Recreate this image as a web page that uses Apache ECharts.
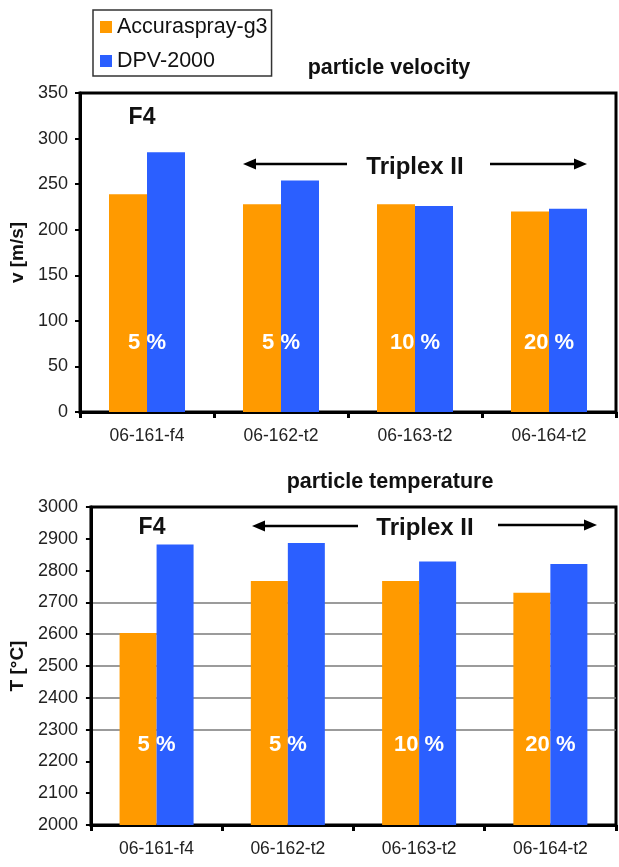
<!DOCTYPE html>
<html>
<head>
<meta charset="utf-8">
<script src="https://cdn.jsdelivr.net/npm/echarts@6/dist/echarts.min.js"></script>
<style>
html,body{margin:0;padding:0;background:#fff;}
#c{width:619px;height:867px;}
</style>
</head>
<body>
<div id="c"></div>
<script>
// ---- data ----
const categories = ['06-161-f4', '06-162-t2', '06-163-t2', '06-164-t2'];
const seriesNames = ['Accuraspray-g3', 'DPV-2000'];
const velAccura = [239, 228, 228, 220];
const velDPV = [285, 254, 226, 223];
const tempAccura = [2604, 2767, 2767, 2730];
const tempDPV = [2882, 2887, 2829, 2821];
const percentLabels = ['5 %', '5 %', '10 %', '20 %'];
const velTicks = [0, 50, 100, 150, 200, 250, 300, 350];
const tempTicks = [2000, 2100, 2200, 2300, 2400, 2500, 2600, 2700, 2800, 2900, 3000];
const tempGridLines = [2300, 2400, 2500, 2600, 2700];

const FONT = '"Liberation Sans", Arial, Helvetica, sans-serif';
const ORANGE = '#FF9A00';
const BLUE = '#2B5FFF';

const chart = echarts.init(document.getElementById('c'), null, {renderer: 'canvas'});

function yAxisCfg(gridIndex, ticks, name, nameGap, margin, gridLines) {
  const cfg = {
    gridIndex: gridIndex,
    type: 'value',
    min: ticks[0],
    max: ticks[ticks.length - 1],
    interval: ticks[1] - ticks[0],
    name: name,
    nameLocation: 'middle',
    nameRotate: 90,
    nameGap: nameGap,
    nameTextStyle: {fontFamily: FONT, fontSize: 19, fontWeight: 'bold', color: '#111'},
    axisLine: {show: true, lineStyle: {color: '#000', width: 3}},
    axisTick: {show: true, length: 5, lineStyle: {color: '#000', width: 2}},
    axisLabel: {fontFamily: FONT, fontSize: 18, color: '#222', margin: margin, formatter: v => String(v)},
    splitLine: {show: false}
  };
  if (gridLines) {
    cfg.splitLine = {
      show: true,
      showMinLine: true,
      showMaxLine: true,
      lineStyle: {
        width: 1.5,
        color: ticks.map(v => gridLines.includes(v) ? '#7a7a7a' : 'rgba(0,0,0,0)')
      }
    };
  }
  return cfg;
}
function xAxisCfg(gridIndex) {
  return {
    gridIndex: gridIndex,
    type: 'category',
    data: categories,
    axisLine: {show: true, lineStyle: {color: '#000', width: 3}},
    axisTick: {show: true, length: 6, lineStyle: {color: '#000', width: 3}},
    axisLabel: {fontFamily: FONT, fontSize: 17.5, color: '#222', margin: 15},
    splitLine: {show: false}
  };
}

const option = {
  animation: false,
  backgroundColor: '#fff',
  textStyle: {fontFamily: FONT},
  legend: {
    data: seriesNames,
    orient: 'vertical',
    left: 93,
    top: 10,
    itemWidth: 12,
    itemHeight: 12,
    itemGap: 12,
    icon: 'rect',
    borderColor: '#333',
    borderWidth: 1.5,
    padding: [6, 4, 4, 7],
    textStyle: {fontFamily: FONT, fontSize: 21.5, color: '#111'}
  },
  grid: [
    {left: 80, top: 93, width: 536, height: 319, show: true, borderColor: '#000', borderWidth: 3, backgroundColor: '#fff'},
    {left: 90, top: 507, width: 526, height: 318, show: true, borderColor: '#000', borderWidth: 3, backgroundColor: '#fff'}
  ],
  xAxis: [xAxisCfg(0), xAxisCfg(1)],
  yAxis: [
    yAxisCfg(0, velTicks, 'v [m/s]', 43, 12, null),
    yAxisCfg(1, tempTicks, 'T [°C]', 57, 13, tempGridLines)
  ],
  series: [
    {name: seriesNames[0], type: 'bar', xAxisIndex: 0, yAxisIndex: 0, data: velAccura, barWidth: 38, barGap: '0%', itemStyle: {color: ORANGE}, z: 3},
    {name: seriesNames[1], type: 'bar', xAxisIndex: 0, yAxisIndex: 0, data: velDPV, barWidth: 38, barGap: '0%', itemStyle: {color: BLUE}, z: 3},
    {name: seriesNames[0], type: 'bar', xAxisIndex: 1, yAxisIndex: 1, data: tempAccura, barWidth: 37, barGap: '0%', itemStyle: {color: ORANGE}, z: 3},
    {name: seriesNames[1], type: 'bar', xAxisIndex: 1, yAxisIndex: 1, data: tempDPV, barWidth: 37, barGap: '0%', itemStyle: {color: BLUE}, z: 3}
  ]
};
chart.setOption(option);

// ---- annotations ----
function arrow(x1, y1, x2, y2) {
  const dir = Math.sign(x2 - x1);
  const headLen = 13, headHalf = 5.5;
  return [
    {type: 'line', shape: {x1: x1, y1: y1, x2: x2 - dir * headLen + dir, y2: y2}, style: {stroke: '#000', lineWidth: 2.5}, z: 10},
    {type: 'polygon', shape: {points: [[x2, y2], [x2 - dir * headLen, y2 - headHalf], [x2 - dir * headLen, y2 + headHalf]]}, style: {fill: '#000'}, z: 10}
  ];
}
function text(str, x, y, size, weight, color) {
  return {type: 'text', x: x, y: y, z: 20,
    style: {text: str, fontFamily: FONT, fontSize: size, fontWeight: weight, fill: color, align: 'center', verticalAlign: 'middle'}};
}

const graphics = [];
graphics.push(text('particle velocity', 389, 68, 21.5, 'bold', '#111'));
graphics.push(text('particle temperature', 390, 482, 21.5, 'bold', '#111'));
graphics.push(text('F4', 142, 118, 23, 'bold', '#111'));
graphics.push(text('Triplex II', 415, 167, 24, 'bold', '#111'));
graphics.push(text('F4', 152, 528, 23, 'bold', '#111'));
graphics.push(text('Triplex II', 425, 528, 24, 'bold', '#111'));
graphics.push(...arrow(347, 164, 243, 164));
graphics.push(...arrow(490, 164, 587, 164));
graphics.push(...arrow(358, 526, 252, 526));
graphics.push(...arrow(498, 525, 597, 525));

categories.forEach((c, i) => {
  const xt = chart.convertToPixel({xAxisIndex: 0}, c);
  const xb = chart.convertToPixel({xAxisIndex: 1}, c);
  graphics.push(text(percentLabels[i], xt, 343, 22, 'bold', '#fff'));
  graphics.push(text(percentLabels[i], xb, 745, 22, 'bold', '#fff'));
});

chart.setOption({graphic: graphics});
</script>
</body>
</html>
